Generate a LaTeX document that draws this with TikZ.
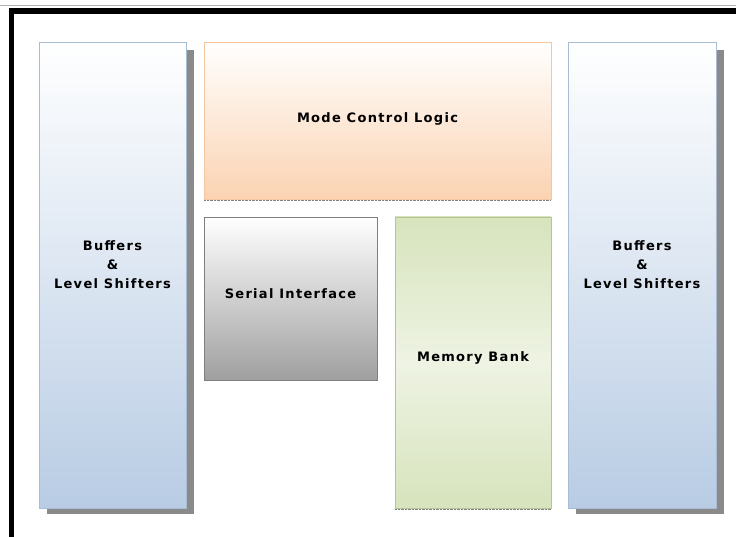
\documentclass[tikz,border=0pt]{standalone}
\usepackage{fontspec}
\setsansfont{DejaVu Sans}
\usetikzlibrary{positioning}
\definecolor{bluebot}{HTML}{B8CCE4}
\definecolor{blueedge}{HTML}{A9BCD6}
\definecolor{peach}{HTML}{FBD3B2}
\definecolor{peachedge}{HTML}{F4C7A0}
\definecolor{greyedge}{HTML}{7F7F7F}
\definecolor{greenA}{HTML}{C3D69B}
\definecolor{greenB}{HTML}{EEF3E3}
\definecolor{shadowc}{HTML}{8A8A8A}
\tikzset{
  lbl/.style={font=\sffamily\bfseries\fontsize{13}{19}\selectfont\addfontfeatures{LetterSpace=10}, align=center, text=black},
  shadowbar/.style={fill=shadowc, draw=none},
}
\begin{document}
\begin{tikzpicture}[x=1pt,y=-1pt]
\useasboundingbox (0,0) rectangle (736,537);
\fill[white] (0,0) rectangle (736,537);
% frame
\draw[gray!60, line width=1pt] (0,6) -- (736,6);
\fill[black] (9,8) rectangle (736,14);
\fill[black] (9,8) rectangle (14,537);
% shadows
\fill[shadowbar] (187,50) rectangle (194,514);
\fill[shadowbar] (47,508) rectangle (194,514);
\fill[shadowbar] (717,50) rectangle (724,514);
\fill[shadowbar] (576,508) rectangle (724,514);
% left buffers
\shade[top color=white, bottom color=bluebot, draw=blueedge] (39,42) rectangle (186,508);
\node[lbl] (bufl) at (112.5,265) {Buffers\\\&\\Level Shifters};
% right buffers
\shade[top color=white, bottom color=bluebot, draw=blueedge] (568,42) rectangle (716,508);
\node[lbl] (bufr) at (642,265) {Buffers\\\&\\Level Shifters};
% mode control
\shade[top color=white, bottom color=peach, draw=peachedge] (204,42) rectangle (551,199);
\draw[gray, densely dotted] (204,200) -- (551,200);
\node[lbl] (mode) at (377.5,119) {Mode Control Logic};
% serial interface
\shade[top color=white, bottom color=gray!75, draw=greyedge] (204,217) rectangle (377,380);
\node[lbl] (serial) at (290.5,294) {Serial Interface};
% memory bank
\begin{scope}
\clip (395,217) rectangle (551,508);
\fill[greenA] (395,217) rectangle (551,508);
\shade[rotate around={-62:(473,362)}, top color=greenA, bottom color=greenA, middle color=greenB]
  (273,162) rectangle (673,562);
\end{scope}
\draw[greenA!80!gray] (395,217) rectangle (551,508);
\draw[gray, densely dotted] (395,509) -- (551,509);
\node[lbl] (mem) at (473,358) {Memory Bank};
\end{tikzpicture}
\end{document}
